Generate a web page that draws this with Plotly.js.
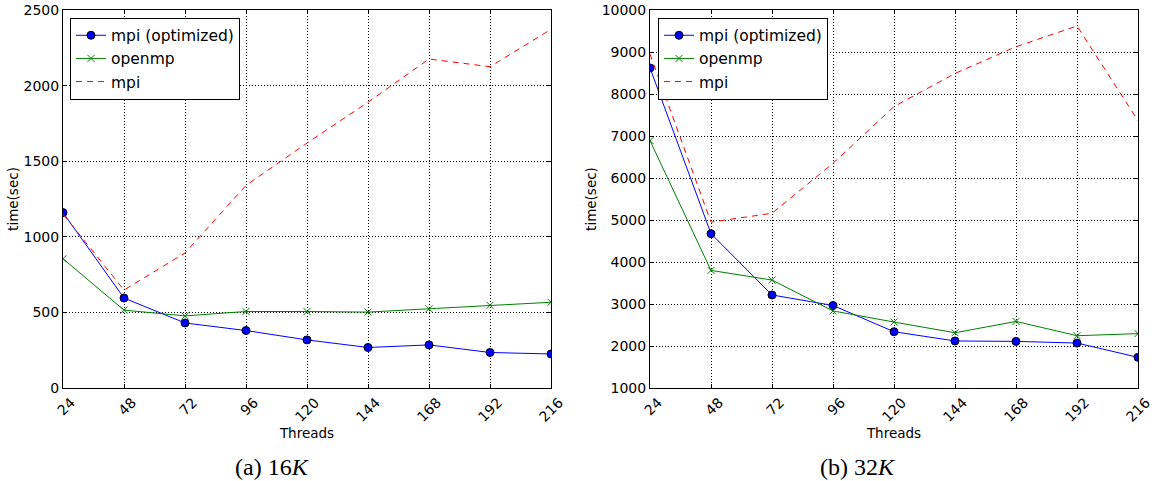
<!DOCTYPE html>
<html>
<head>
<meta charset="utf-8">
<script src="https://cdn.plot.ly/plotly-3.0.1.min.js"></script>
<style>html,body{margin:0;padding:0;background:#fff;}#chart{width:1158px;height:481px;}</style>
</head>
<body>
<div id="chart"></div>
<script>
// ---- data ----
const threads = [24, 48, 72, 96, 120, 144, 168, 192, 216];
const threadTicks = ["24", "48", "72", "96", "120", "144", "168", "192", "216"];

// (a) 16K
const mpiOpt16 = [1160, 595, 430, 380, 318, 268, 285, 235, 225];
const openmp16 = [855, 515, 477, 506, 506, 502, 524, 547, 567];
const mpi16    = [1150, 648, 893, 1340, 1620, 1890, 2176, 2125, 2372];

// (b) 32K
const mpiOpt32 = [8620, 4675, 3215, 2965, 2340, 2120, 2110, 2070, 1730];
const openmp32 = [6890, 3800, 3570, 2835, 2570, 2315, 2585, 2245, 2295];
const mpi32    = [8950, 4950, 5160, 6350, 7700, 8490, 9125, 9620, 7365];

const seriesNames = ["mpi (optimized)", "openmp", "mpi"];
const captions = ["(a) 16<i>K</i>", "(b) 32<i>K</i>"];

// ---- styles ----
const FONT = "DejaVu Sans, sans-serif";
const blueStyle = {mode: "lines+markers", line: {color: "#0000ff", width: 1},
  marker: {symbol: "circle", size: 8, color: "#0000ff", line: {color: "#000", width: 1}}};
const greenStyle = {mode: "lines+markers", line: {color: "#008000", width: 1},
  marker: {symbol: "x-thin", size: 7, color: "#008000", line: {color: "#008000", width: 1}}};
const redStyle = {mode: "lines", line: {color: "#ff0000", width: 1, dash: "6px,5px"}};

function mk(y, name, style, xa, ya, leg) {
  return Object.assign({x: threads, y: y, name: name, xaxis: xa, yaxis: ya, legend: leg, type: "scatter"}, style);
}

const data = [
  mk(mpiOpt16, seriesNames[0], blueStyle, "x", "y", "legend"),
  mk(openmp16, seriesNames[1], greenStyle, "x", "y", "legend"),
  mk(mpi16, seriesNames[2], redStyle, "x", "y", "legend"),
  mk(mpiOpt32, seriesNames[0], blueStyle, "x2", "y2", "legend2"),
  mk(openmp32, seriesNames[1], greenStyle, "x2", "y2", "legend2"),
  mk(mpi32, seriesNames[2], redStyle, "x2", "y2", "legend2")
];

function xax(domain, anchor) {
  return {domain: domain, anchor: anchor, range: [24, 216], tickvals: threads, ticktext: threadTicks,
    tickangle: -45, ticklabelshift: 8, ticks: "inside", ticklen: 4, tickcolor: "#000",
    showline: true, linecolor: "#000", linewidth: 1, mirror: "ticks",
    showgrid: true, gridcolor: "#000", gridwidth: 1, griddash: "1px,2px", zeroline: false,
    tickfont: {family: FONT, size: 14, color: "#000"},
    title: {text: "Threads", font: {family: FONT, size: 13.5, color: "#000"}, standoff: 0}};
}
function yax(domainAnchor, range, dtick) {
  return {anchor: domainAnchor, domain: [0, 1], range: range, dtick: dtick, tick0: 0, tickformat: "d",
    ticks: "inside", ticklen: 4, tickcolor: "#000",
    showline: true, linecolor: "#000", linewidth: 1, mirror: "ticks",
    showgrid: true, gridcolor: "#000", gridwidth: 1, griddash: "1px,2px", zeroline: false,
    tickfont: {family: FONT, size: 14, color: "#000"},
    title: {text: "time(sec)", font: {family: FONT, size: 13.5, color: "#000"}, standoff: 1}};
}
function leg(x) {
  return {x: x, y: (388 - 17.7) / 378, xref: "paper", yref: "paper", xanchor: "left", yanchor: "top",
    bgcolor: "#fff", bordercolor: "#000", borderwidth: 1, font: {family: FONT, size: 15.5, color: "#000"},
    tracegroupgap: 0};
}

const capFont = {family: "Liberation Serif, DejaVu Serif, serif", size: 24, color: "#000"};
const layout = {
  width: 1158, height: 481,
  margin: {l: 0, r: 0, t: 10, b: 93},
  paper_bgcolor: "#fff", plot_bgcolor: "#fff",
  showlegend: true,
  xaxis: xax([63 / 1158, 551 / 1158], "y"),
  yaxis: yax("x", [0, 2500], 500),
  xaxis2: xax([650 / 1158, 1138 / 1158], "y2"),
  yaxis2: yax("x2", [1000, 10000], 1000),
  legend: leg(70 / 1158),
  legend2: leg(658 / 1158),
  annotations: [
    {text: captions[0], xref: "paper", yref: "paper", x: 272 / 1158, y: (388 - 467) / 378, showarrow: false,
     xanchor: "center", yanchor: "middle", font: capFont},
    {text: captions[1], xref: "paper", yref: "paper", x: 858 / 1158, y: (388 - 467) / 378, showarrow: false,
     xanchor: "center", yanchor: "middle", font: capFont}
  ]
};

Plotly.newPlot("chart", data, layout, {displayModeBar: false, staticPlot: true});
</script>
</body>
</html>
